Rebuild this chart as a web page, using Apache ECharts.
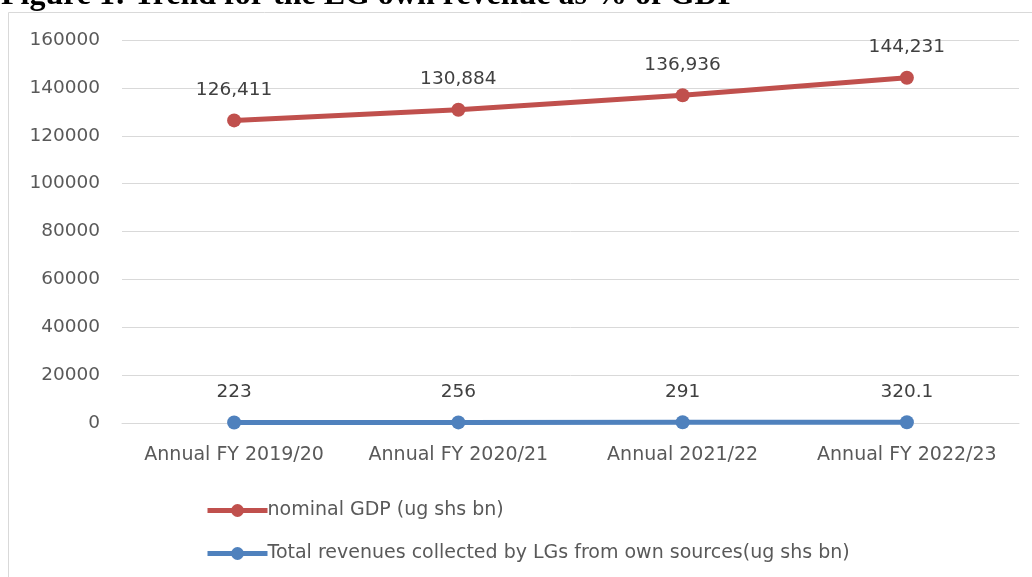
<!DOCTYPE html>
<html><head><meta charset="utf-8">
<script src="https://cdn.jsdelivr.net/npm/echarts@6/dist/echarts.min.js"></script>
<style>html,body{margin:0;padding:0;background:#fff}#c{width:1032px;height:577px}</style>
</head><body><div id="c"></div>
<script>
const categories = ["Annual FY 2019/20", "Annual FY 2020/21", "Annual 2021/22", "Annual FY 2022/23"];
const gdp = [126411, 130884, 136936, 144231];
const gdpLabels = ["126,411", "130,884", "136,936", "144,231"];
const lgRev = [223, 256, 291, 320.1];
const lgLabels = ["223", "256", "291", "320.1"];
const yTicks = [0, 20000, 40000, 60000, 80000, 100000, 120000, 140000, 160000];

const font = "'DejaVu Sans', sans-serif";
const chart = echarts.init(document.getElementById('c'), null, {renderer: 'canvas'});
chart.setOption({
  animation: false,
  title: {
    text: "Figure 1: Trend for the LG own revenue as % of GDP",
    left: -4, top: -25,
    textStyle: {fontFamily: "'Liberation Serif', serif", fontWeight: 'bold', fontSize: 32, color: '#000'}
  },
  graphic: [{
    type: 'polyline', silent: true,
    shape: {points: [[8.5, 577], [8.5, 12.5], [1032, 12.5]]},
    style: {stroke: '#d9d9d9', lineWidth: 1, fill: null}
  }],
  grid: {left: 122, right: 13, top: 40, bottom: 154},
  xAxis: {
    type: 'category', data: categories, boundaryGap: true,
    axisLine: {lineStyle: {color: '#d9d9d9'}},
    axisTick: {show: false},
    axisLabel: {fontFamily: font, fontSize: 19, color: '#595959', margin: 23, interval: 0, hideOverlap: false}
  },
  yAxis: {
    type: 'value', min: 0, max: 160000, interval: 20000,
    axisLine: {show: false}, axisTick: {show: false},
    splitLine: {lineStyle: {color: '#d9d9d9', width: 1}},
    axisLabel: {fontFamily: font, fontSize: 18.5, color: '#595959', margin: 22,
      formatter: v => yTicks.includes(v) ? String(v) : ''}
  },
  legend: {
    orient: 'vertical', left: 200, top: 496, itemGap: 24,
    itemWidth: 60, itemHeight: 16,
    lineStyle: {width: 5},
    textStyle: {fontFamily: font, fontSize: 19, color: '#595959', padding: [0,0,0,-5]},
    data: ["nominal GDP (ug shs bn)", "Total revenues collected by LGs from own sources(ug shs bn)"]
  },
  series: [
    {
      name: "nominal GDP (ug shs bn)", type: 'line', data: gdp,
      symbol: 'circle', symbolSize: 14,
      lineStyle: {color: '#C0504D', width: 5},
      itemStyle: {color: '#C0504D'},
      label: {show: true, position: 'top', distance: 14, fontFamily: font, fontSize: 18.5, color: '#404040',
        formatter: p => gdpLabels[p.dataIndex]}
    },
    {
      name: "Total revenues collected by LGs from own sources(ug shs bn)", type: 'line', data: lgRev,
      symbol: 'circle', symbolSize: 14,
      lineStyle: {color: '#4F81BD', width: 5},
      itemStyle: {color: '#4F81BD'},
      label: {show: true, position: 'top', distance: 14, fontFamily: font, fontSize: 18.5, color: '#404040',
        formatter: p => lgLabels[p.dataIndex]}
    }
  ]
});
</script></body></html>
